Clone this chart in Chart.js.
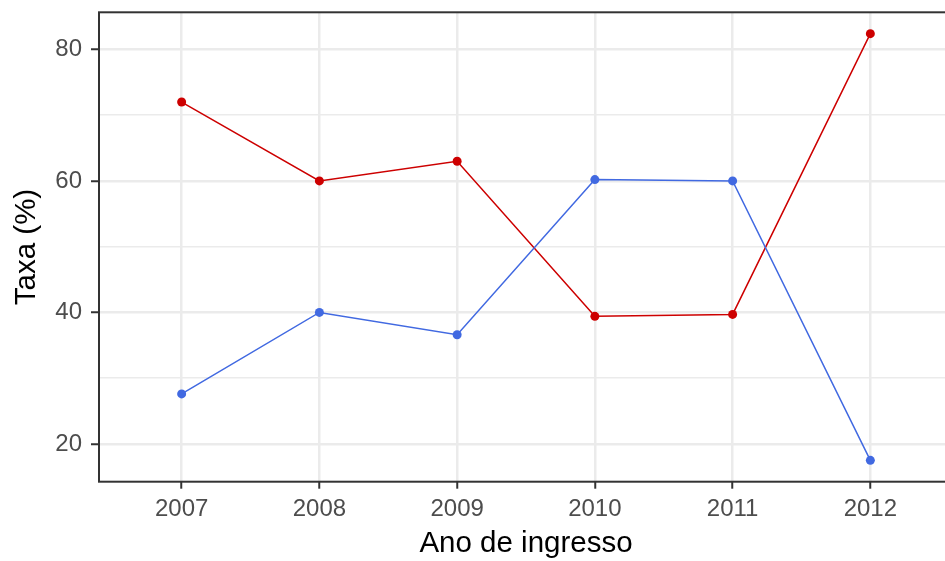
<!DOCTYPE html>
<html>
<head>
<meta charset="utf-8">
<script src="https://cdn.jsdelivr.net/npm/chart.js@4.4.1/dist/chart.umd.min.js"></script>
<style>
  html, body { margin: 0; padding: 0; background: #fff; overflow: hidden; }
  #wrap { width: 960px; height: 561px; }
</style>
</head>
<body>
<div id="wrap"><canvas id="chart" width="960" height="561"></canvas></div>
<script>
// data
const years = [2007, 2008, 2009, 2010, 2011, 2012];
const redSeries = [72.0, 60.0, 63.0, 39.4, 39.7, 82.4];
const blueSeries = [27.6, 40.0, 36.6, 60.2, 60.0, 17.5];
const yTicks = [20, 30, 40, 50, 60, 70, 80];
const yLabels = [20, 40, 60, 80];

const fontFamily = "'Liberation Sans', Arial, sans-serif";

function isMajorY(v) {
    return yLabels.indexOf(v) !== -1;
}

// ggplot-like panel border drawn around the plot area
const panelBorder = {
    id: 'panelBorder',
    afterDatasetsDraw(chart) {
        const a = chart.chartArea;
        const ctx = chart.ctx;
        ctx.save();
        ctx.strokeStyle = '#333333';
        ctx.lineWidth = 2;
        ctx.strokeRect(a.left, a.top, a.right - a.left, a.bottom - a.top);
        ctx.restore();
    }
};

new Chart(document.getElementById('chart'), {
    type: 'line',
    data: {
        datasets: [{
                label: 'blue',
                data: years.map((y, i) => ({ x: y, y: blueSeries[i] })),
                borderColor: '#4169E1',
                backgroundColor: '#4169E1',
                borderWidth: 1.5,
                pointRadius: 4.5,
                pointBorderWidth: 0,
                tension: 0
            },
            {
                label: 'red',
                data: years.map((y, i) => ({ x: y, y: redSeries[i] })),
                borderColor: '#CD0000',
                backgroundColor: '#CD0000',
                borderWidth: 1.5,
                pointRadius: 4.5,
                pointBorderWidth: 0,
                tension: 0
            }
        ]
    },
    options: {
        responsive: false,
        animation: false,
        layout: {
            padding: { left: 0, top: 12.3, right: 7, bottom: 0 }
        },
        plugins: {
            legend: { display: false },
            tooltip: { enabled: false }
        },
        scales: {
            x: {
                type: 'linear',
                min: 2006.4,
                max: 2012.6,
                afterBuildTicks: axis => { axis.ticks = years.map(v => ({ value: v })); },
                afterFit: axis => {
                    axis.height = 79.3;
                    axis.paddingLeft = 0;
                    axis.paddingRight = 0;
                },
                border: { display: false },
                grid: {
                    color: '#EBEBEB',
                    lineWidth: 2.5,
                    tickColor: '#333333',
                    tickLength: 7,
                    tickWidth: 2
                },
                ticks: {
                    padding: 6,
                    color: '#4D4D4D',
                    maxRotation: 0,
                    font: { family: fontFamily, size: 24 },
                    callback: v => String(v)
                },
                title: {
                    display: true,
                    text: 'Ano de ingresso',
                    color: '#000000',
                    font: { family: fontFamily, size: 29.5, lineHeight: 1 },
                    padding: { top: 0, bottom: 2 }
                }
            },
            y: {
                type: 'linear',
                min: 14.25,
                max: 85.65,
                afterBuildTicks: axis => { axis.ticks = yTicks.map(v => ({ value: v })); },
                afterFit: axis => {
                    axis.width = 99;
                    axis.paddingTop = 0;
                    axis.paddingBottom = 0;
                },
                border: { display: false },
                grid: {
                    color: '#EBEBEB',
                    lineWidth: ctx => isMajorY(ctx.tick.value) ? 2.5 : 1.5,
                    tickColor: ctx => isMajorY(ctx.tick.value) ? '#333333' : 'rgba(0,0,0,0)',
                    tickLength: 8,
                    tickWidth: 2
                },
                ticks: {
                    padding: 9,
                    color: '#4D4D4D',
                    font: { family: fontFamily, size: 24 },
                    callback: v => isMajorY(v) ? String(v) : ''
                },
                title: {
                    display: true,
                    text: 'Taxa (%)',
                    color: '#000000',
                    font: { family: fontFamily, size: 29.5, lineHeight: 1 },
                    padding: { top: 12, bottom: 0 }
                }
            }
        }
    },
    plugins: [panelBorder]
});
</script>
</body>
</html>
